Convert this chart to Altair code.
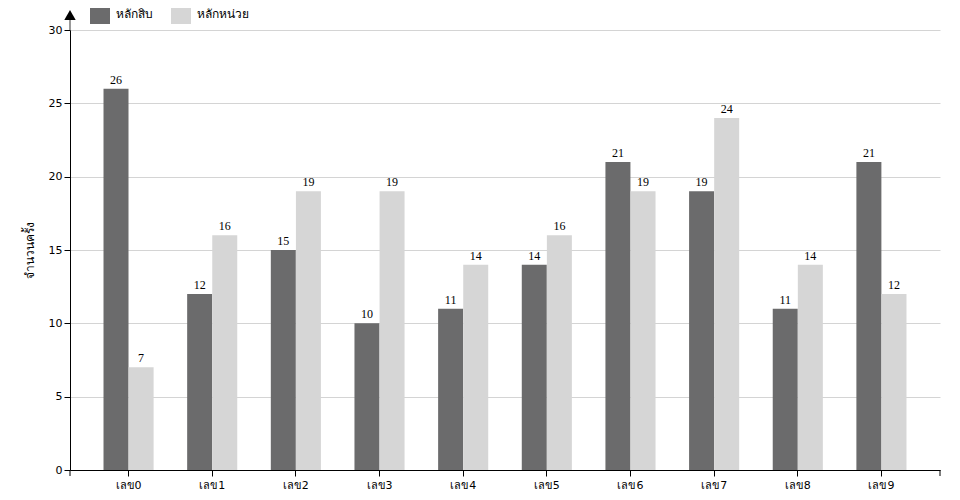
import altair as alt
import pandas as pd

categories = ["เลข0", "เลข1", "เลข2", "เลข3", "เลข4", "เลข5", "เลข6", "เลข7", "เลข8", "เลข9"]
series_names = ["หลักสิบ", "หลักหน่วย"]
tens = [26, 12, 15, 10, 11, 14, 21, 19, 11, 21]
units = [7, 16, 19, 19, 14, 16, 19, 24, 14, 12]
y_ticks = [0, 5, 10, 15, 20, 25, 30]

rows = []
for c, a, b in zip(categories, tens, units):
    rows.append({"cat": c, "series": series_names[0], "value": a})
    rows.append({"cat": c, "series": series_names[1], "value": b})
df = pd.DataFrame(rows)

W, H = 870, 440
sans = "DejaVu Sans"
serif = "Liberation Serif"

x_enc = alt.X("cat:N", sort=categories, title=None,
              scale=alt.Scale(paddingInner=0.4, paddingOuter=0.4),
              axis=alt.Axis(labelAngle=0, labelFont=sans, labelFontSize=11, labelColor="#000",
                            domainColor="#000", tickColor="#000", tickSize=6, labelPadding=3,
                            grid=False))
y_enc = alt.Y("value:Q", title="จำนวนครั้ง",
              scale=alt.Scale(domain=[0, 30], nice=False),
              axis=alt.Axis(values=y_ticks, labelFont=sans, labelFontSize=11, labelColor="#000",
                            domainColor="#000", tickColor="#000", tickSize=6,
                            gridColor="#d4d4d4", titleFont=serif, titleFontSize=12,
                            titleFontWeight="normal", titleColor="#000", titlePadding=12))
color_enc = alt.Color("series:N", sort=series_names,
                      scale=alt.Scale(domain=series_names, range=["#6b6b6c", "#d6d6d6"]),
                      legend=alt.Legend(title=None, orient="none", legendX=20, legendY=-26,
                                        direction="horizontal", symbolType="square",
                                        symbolSize=400, symbolStrokeWidth=0,
                                        labelFont=sans, labelFontSize=12, labelColor="#000",
                                        columnPadding=18, labelOffset=6))

base = alt.Chart(df).encode(
    x=x_enc,
    xOffset=alt.XOffset("series:N", sort=series_names),
)

bars = base.mark_bar(size=25).encode(y=y_enc, color=color_enc)
labels = base.mark_text(baseline="bottom", dy=-2, font=serif, fontSize=12,
                        fill="#000", color="#000").encode(
    y="value:Q", text="value:Q")

# outer ticks at both ends of x axis
deco = pd.DataFrame({"k": [0]})
left_tick = alt.Chart(deco).mark_rule(color="#000").encode(
    x=alt.value(0), y=alt.value(H), y2=alt.value(H + 6))
right_tick = alt.Chart(deco).mark_rule(color="#000").encode(
    x=alt.value(W), y=alt.value(H), y2=alt.value(H + 6))
stem = alt.Chart(deco).mark_rule(color="#777", strokeWidth=1.5).encode(
    x=alt.value(0), y=alt.value(-12), y2=alt.value(0))
arrow = alt.Chart(deco).mark_point(shape="triangle-up", filled=True, color="#000", size=130,
                                   opacity=1).encode(
    x=alt.value(0), y=alt.value(-15))

chart = alt.layer(bars, labels, left_tick, right_tick, stem, arrow).properties(
    width=W, height=H,
    autosize=alt.AutoSizeParams(type="none"),
    padding={"left": 62, "top": 22, "right": 12, "bottom": 22},
).configure_view(stroke=None).configure_axis(domainWidth=1)

chart.save("out.html", embed_options={"renderer": "svg", "actions": False})
